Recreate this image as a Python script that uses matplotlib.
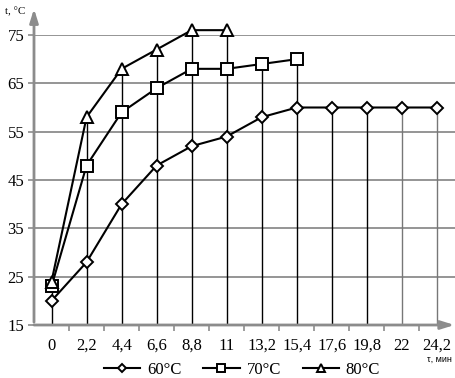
import matplotlib
matplotlib.use("Agg")
import matplotlib.pyplot as plt

# time points, min
tau = ["0", "2,2", "4,4", "6,6", "8,8", "11", "13,2", "15,4", "17,6", "19,8", "22", "24,2"]
# temperature, °C
t60 = [20, 28, 40, 48, 52, 54, 58, 60, 60, 60, 60, 60]
t70 = [23, 48, 59, 64, 68, 68, 69, 70]
t80 = [24, 58, 68, 72, 76, 76]
yticks = [15, 25, 35, 45, 55, 65, 75]

plt.rcParams["font.family"] = ["Liberation Serif", "DejaVu Serif"]

fig = plt.figure(figsize=(4.55, 3.78), dpi=100)
ax = fig.add_axes([34 / 455, 1 - 325 / 378, (454.5 - 34) / 455, (325 - 35) / 378])
ax.set_xlim(-0.5, len(tau) - 0.5)
ax.set_ylim(15, 75)

# horizontal grid
for v in yticks[1:]:
    ax.axhline(v, color="#8c8c8c", lw=1.3, zorder=1)

# drop lines from the highest point of each category
series = [t60, t70, t80]
for i in range(len(tau)):
    top = max(s[i] for s in series if i < len(s))
    col = "black" if i < 10 else "#777777"
    ax.plot([i, i], [15, top], color=col, lw=1.0, zorder=2)

mk = dict(color="black", lw=1.5, markerfacecolor="white", markeredgecolor="black",
          markeredgewidth=1.4, zorder=4, clip_on=False)
ax.plot(range(len(t60)), t60, marker="D", markersize=6.5, label="60°C", **mk)
ax.plot(range(len(t70)), t70, marker="s", markersize=9, label="70°C", **mk)
ax.plot(range(len(t80)), t80, marker="^", markersize=9, label="80°C", **mk)

for s in ax.spines.values():
    s.set_visible(False)

# axes with arrows
ax.annotate("", xy=(0, 1.1), xycoords="axes fraction", xytext=(0, 0),
            arrowprops=dict(arrowstyle="-|>,head_width=0.25,head_length=0.8",
                            color="#8c8c8c", lw=2), zorder=3)
ax.annotate("", xy=(1.0, 0), xycoords="axes fraction", xytext=(0, 0),
            arrowprops=dict(arrowstyle="-|>,head_width=0.25,head_length=0.8",
                            color="#8c8c8c", lw=2, shrinkA=0, shrinkB=0), zorder=3)

ax.set_yticks(yticks)
ax.set_xticks(range(len(tau)))
ax.set_xticklabels(tau)
ax.set_xticks([i - 0.5 for i in range(1, len(tau))], minor=True)
ax.tick_params(axis="x", which="major", length=0, pad=9, labelsize=12)
ax.tick_params(axis="x", which="minor", length=4, color="#8c8c8c", width=1.2)
ax.tick_params(axis="y", length=4, color="#8c8c8c", width=1.2, labelsize=12, pad=3)

fig.text(5 / 455, 1 - 12 / 378, "t, °C", fontsize=8, va="center", ha="left")
fig.text(452 / 455, 1 - 359 / 378, "τ, мин", fontsize=6.5, va="center", ha="right",
         family=["Liberation Sans", "DejaVu Sans"])

fig.legend(loc="center", bbox_to_anchor=(242 / 455, 1 - 370 / 378), ncol=3, frameon=False,
           fontsize=12, handlelength=2.2, columnspacing=1.3, handletextpad=0.4,
           markerscale=0.65, borderaxespad=0, borderpad=0)

fig.savefig("out.png", dpi=100)
